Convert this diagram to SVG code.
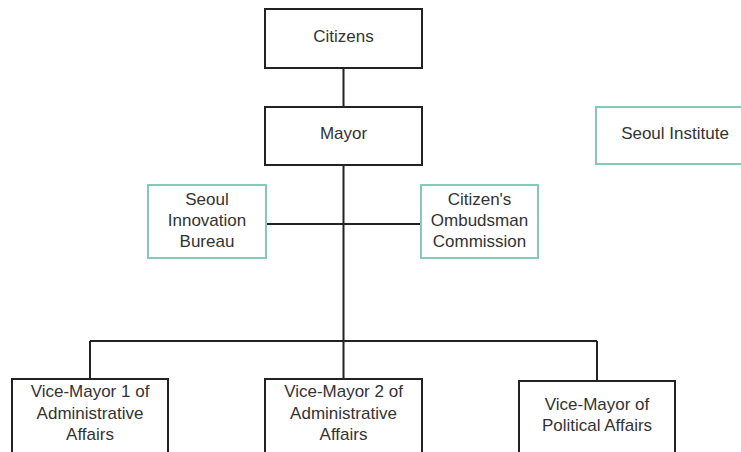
<svg xmlns="http://www.w3.org/2000/svg" width="741" height="452" viewBox="0 0 741 452">
<style>
.b{fill:#fff;stroke:#222;stroke-width:2}
.t{fill:#fff;stroke:#86c9b8;stroke-width:2}
.l{fill:none;stroke:#222;stroke-width:2}
text{font-family:"Liberation Sans",Arial,sans-serif;font-size:17px;fill:#333;text-anchor:middle}
</style>
<rect width="741" height="452" fill="#fff"/>
<g id="connectors">
<path class="l" d="M343.5 68V107M343.5 165V341M266 224H420M90 341H597M90 341V379M343.5 341V379M597 341V381"/>
</g>
<g id="citizens"><rect class="b" x="265" y="9" width="157" height="59"/><text x="343.5" y="42">Citizens</text></g>
<g id="mayor"><rect class="b" x="265" y="107" width="157" height="58"/><text x="343.5" y="139">Mayor</text></g>
<g id="seoul-institute"><rect class="t" x="596" y="107" width="150" height="57"/><text x="675" y="139">Seoul Institute</text></g>
<g id="innovation"><rect class="t" x="148" y="185" width="118" height="73"/><text x="207" y="205">Seoul</text><text x="207" y="226">Innovation</text><text x="207" y="247">Bureau</text></g>
<g id="ombudsman"><rect class="t" x="421" y="185" width="117" height="73"/><text x="479.5" y="205">Citizen's</text><text x="479.5" y="226">Ombudsman</text><text x="479.5" y="247">Commission</text></g>
<g id="vm1"><rect class="b" x="12" y="379" width="156" height="80"/><text x="90" y="397">Vice-Mayor 1 of</text><text x="90" y="419">Administrative</text><text x="90" y="440">Affairs</text></g>
<g id="vm2"><rect class="b" x="265" y="379" width="157" height="80"/><text x="343.5" y="397">Vice-Mayor 2 of</text><text x="343.5" y="419">Administrative</text><text x="343.5" y="440">Affairs</text></g>
<g id="vm3"><rect class="b" x="519" y="381" width="156" height="80"/><text x="597" y="410">Vice-Mayor of</text><text x="597" y="431">Political Affairs</text></g>
</svg>
